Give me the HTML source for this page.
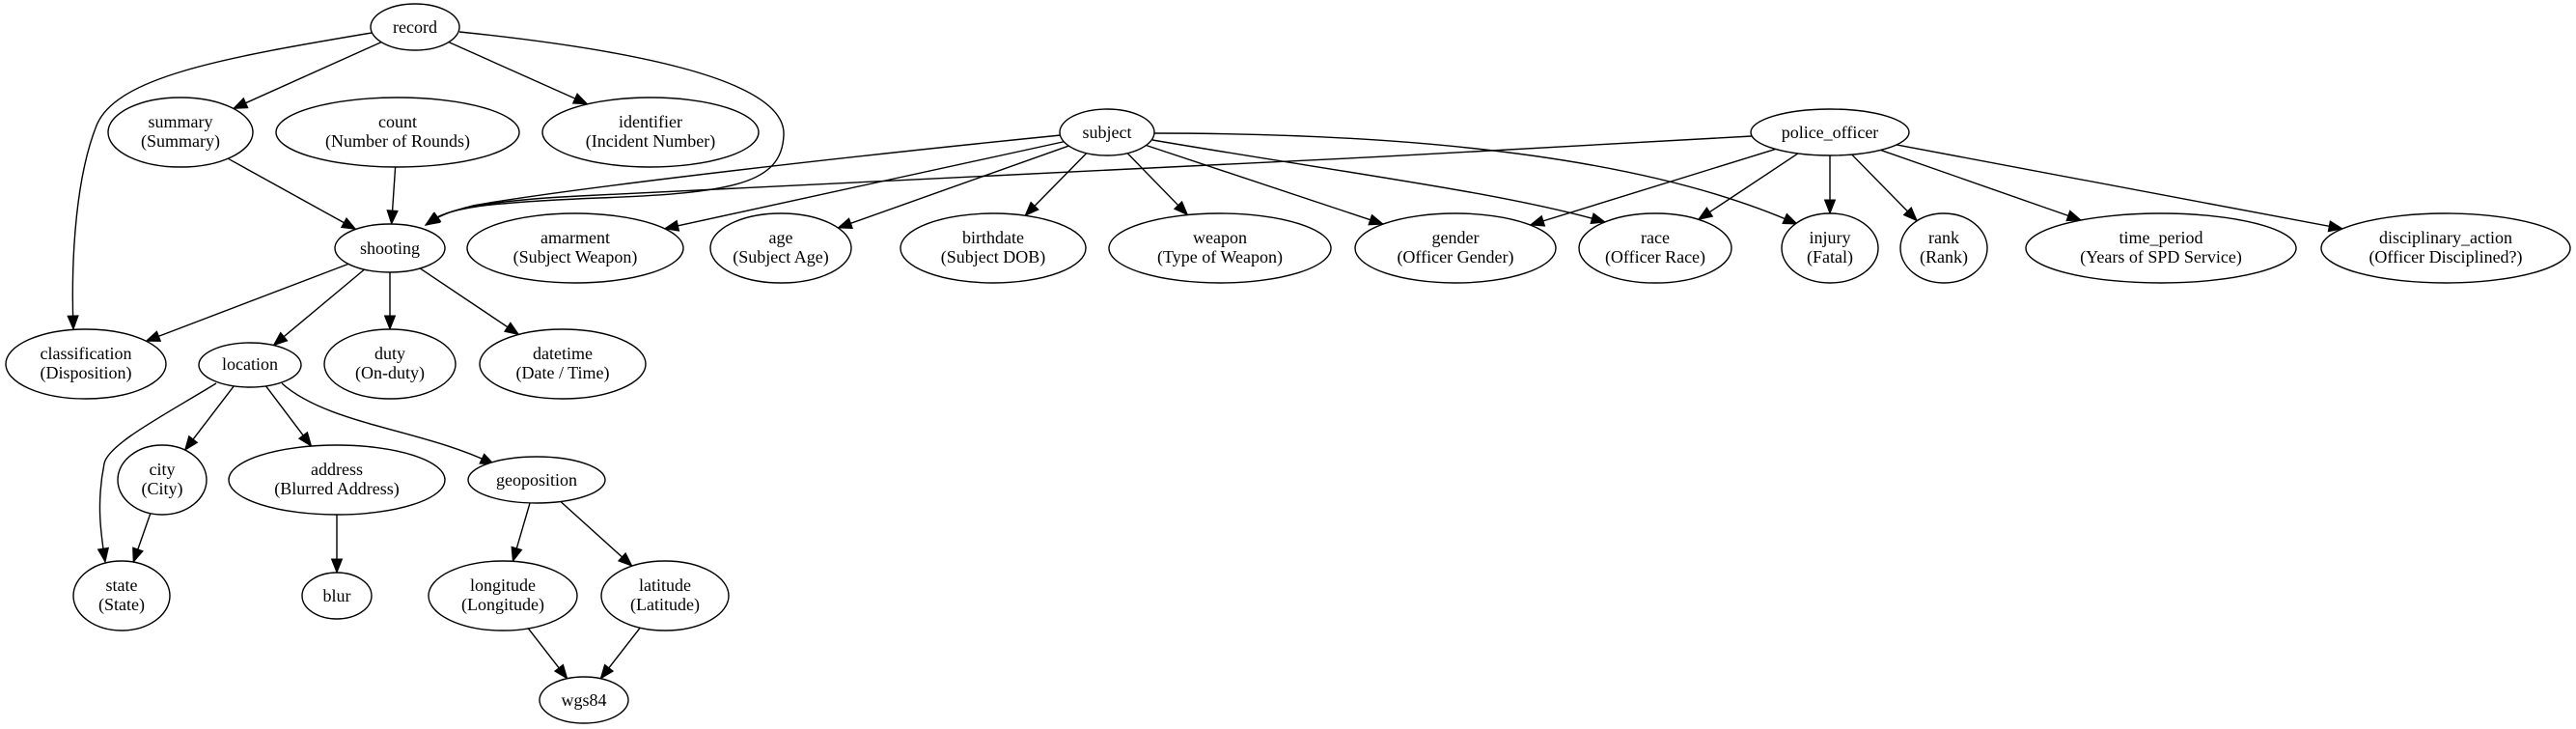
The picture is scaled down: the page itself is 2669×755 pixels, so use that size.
<!DOCTYPE html>
<html><head><meta charset="utf-8"><style>
html,body{margin:0;padding:0;background:#fff;}
svg{display:block;}
text{font-family:"Liberation Serif",serif;font-size:18px;fill:#000;}
</style></head><body>
<svg id="g" width="2669" height="755" viewBox="0 0 2669 755" xmlns="http://www.w3.org/2000/svg">
<g id="edges" fill="none" stroke="#000" stroke-width="1.4"></g>
<g id="arrows" fill="#000" stroke="#000" stroke-width="1"></g>
<g id="nodes" fill="#fff" stroke="#000" stroke-width="1.4"></g>
<g id="labels" text-anchor="middle">
<text x="430" y="34">record</text>
<text x="187" y="132">summary</text><text x="187" y="152">(Summary)</text>
<text x="412" y="132">count</text><text x="412" y="152">(Number of Rounds)</text>
<text x="674" y="132">identifier</text><text x="674" y="152">(Incident Number)</text>
<text x="404" y="263">shooting</text>
<text x="596" y="252">amarment</text><text x="596" y="272">(Subject Weapon)</text>
<text x="809" y="252">age</text><text x="809" y="272">(Subject Age)</text>
<text x="1029" y="252">birthdate</text><text x="1029" y="272">(Subject DOB)</text>
<text x="1264" y="252">weapon</text><text x="1264" y="272">(Type of Weapon)</text>
<text x="1508" y="252">gender</text><text x="1508" y="272">(Officer Gender)</text>
<text x="1715" y="252">race</text><text x="1715" y="272">(Officer Race)</text>
<text x="1896" y="252">injury</text><text x="1896" y="272">(Fatal)</text>
<text x="2014" y="252">rank</text><text x="2014" y="272">(Rank)</text>
<text x="2239" y="252">time_period</text><text x="2239" y="272">(Years of SPD Service)</text>
<text x="2534" y="252">disciplinary_action</text><text x="2534" y="272">(Officer Disciplined?)</text>
<text x="1147" y="143">subject</text>
<text x="1896" y="143">police_officer</text>
<text x="89" y="372">classification</text><text x="89" y="392">(Disposition)</text>
<text x="259" y="383">location</text>
<text x="404" y="372">duty</text><text x="404" y="392">(On-duty)</text>
<text x="583" y="372">datetime</text><text x="583" y="392">(Date / Time)</text>
<text x="168" y="492">city</text><text x="168" y="512">(City)</text>
<text x="349" y="492">address</text><text x="349" y="512">(Blurred Address)</text>
<text x="556" y="503">geoposition</text>
<text x="126" y="612">state</text><text x="126" y="632">(State)</text>
<text x="349" y="623">blur</text>
<text x="521" y="612">longitude</text><text x="521" y="632">(Longitude)</text>
<text x="689" y="612">latitude</text><text x="689" y="632">(Latitude)</text>
<text x="605" y="731">wgs84</text>
</g>
</svg>
<script>
var N={
record:[430,28,46,24],summary:[187,137,75,36],count:[412,137,126,36],identifier:[674,137,112,36],
shooting:[404,257,57,25],amarment:[596,257,112,36],age:[809,257,73,36],birthdate:[1029,257,96,36],
weapon:[1264,257,115,36],gender:[1508,257,104,36],race:[1715,257,79,36],injury:[1896,257,50,36],
rank:[2014,257,45,36],time_period:[2239,257,140,36],disciplinary_action:[2534,257,129,36],
subject:[1147,137,49,24],police_officer:[1896,137,82,24],
classification:[89,377,83,36],location:[259,378,53,23],duty:[404,377,68,36],datetime:[583,377,86,36],
city:[168,497,46,36],address:[349,497,112,36],geoposition:[556,497,71,24],
state:[126,617,50,36],blur:[349,617,36,24],longitude:[521,617,77,36],latitude:[689,617,66,36],wgs84:[605,725,46,24]};
var NS="http://www.w3.org/2000/svg";
var ng=document.getElementById('nodes'),eg=document.getElementById('edges'),ag=document.getElementById('arrows');
for(var k in N){var n=N[k],e=document.createElementNS(NS,'ellipse');
e.setAttribute('cx',n[0]);e.setAttribute('cy',n[1]);e.setAttribute('rx',n[2]);e.setAttribute('ry',n[3]);ng.appendChild(e);}
function clip(n,dx,dy){var t=1/Math.sqrt(dx*dx/(n[2]*n[2])+dy*dy/(n[3]*n[3]));return [n[0]+dx*t,n[1]+dy*t];}
var straight=[["record","summary"],["record","identifier"],["summary","shooting"],["count","shooting"],
["shooting","classification"],["shooting","location"],["shooting","duty"],["shooting","datetime"],
["location","city"],["location","address"],["city","state"],["address","blur"],
["geoposition","longitude"],["geoposition","latitude"],["longitude","wgs84"],["latitude","wgs84"],
["subject","amarment"],["subject","age"],["subject","birthdate"],["subject","weapon"],["subject","gender"],
["police_officer","gender"],["police_officer","race"],["police_officer","injury"],["police_officer","rank"],
["police_officer","time_period"],["police_officer","disciplinary_action"]];
var paths=[];
straight.forEach(function(s){var a=N[s[0]],b=N[s[1]],dx=b[0]-a[0],dy=b[1]-a[1];
var p=clip(a,dx,dy),q=clip(b,-dx,-dy);paths.push("M"+p[0]+","+p[1]+" L"+q[0]+","+q[1]);});
paths.push("M385,34 C230,60 120,80 100,130 C80,180 73,260 76,341");
paths.push("M476,33 C640,50 815,80 812,140 C810,190 760,200 620,205 C500,210 460,215 442,233");
paths.push("M1099,140 C800,170 560,200 490,213 C465,219 452,225 441,233");
paths.push("M1815,141 C1400,165 900,190 600,203 C500,208 455,218 441,233");
paths.push("M1196,138 C1450,138 1700,160 1862,232");
paths.push("M1194,145 C1400,180 1560,200 1663,230");
paths.push("M224,397 C170,430 112,460 108,480 C100,520 104,550 109,582");
paths.push("M292,397 C340,440 440,445 512,481");
paths.forEach(function(d){var p=document.createElementNS(NS,'path');p.setAttribute('d',d);eg.appendChild(p);
var L=p.getTotalLength(),t=p.getPointAtLength(L),b=p.getPointAtLength(Math.max(0,L-14));
var dx=t.x-b.x,dy=t.y-b.y,l=Math.sqrt(dx*dx+dy*dy)||1;dx/=l;dy/=l;
var bx=t.x-dx*14,by=t.y-dy*14,w=5.5;
var tri=document.createElementNS(NS,'polygon');
tri.setAttribute('points',t.x+","+t.y+" "+(bx-dy*w)+","+(by+dx*w)+" "+(bx+dy*w)+","+(by-dx*w));ag.appendChild(tri);});
</script>
</body></html>
